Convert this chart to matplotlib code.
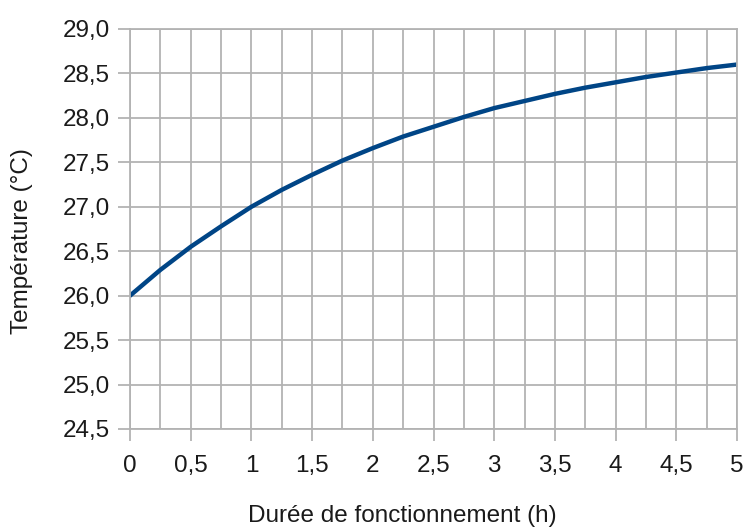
import matplotlib.pyplot as plt
from matplotlib.ticker import MultipleLocator, FuncFormatter

# durée (h) et température (°C)
durees = [0, 0.25, 0.5, 0.75, 1.0, 1.25, 1.5, 1.75, 2.0, 2.25, 2.5,
          2.75, 3.0, 3.25, 3.5, 3.75, 4.0, 4.25, 4.5, 4.75, 5.0]
temperatures = [26.00, 26.29, 26.55, 26.78, 27.00, 27.19, 27.36, 27.52,
                27.66, 27.79, 27.90, 28.01, 28.11, 28.19, 28.27, 28.34,
                28.40, 28.46, 28.51, 28.56, 28.60]

plt.rcParams['font.family'] = ['Liberation Sans', 'DejaVu Sans']

grey = '#b3b3b3'
txt = '#1a1a1a'
W, H = 746, 527
fig = plt.figure(figsize=(W / 100, H / 100), dpi=100)
ax = fig.add_axes([130 / W, 1 - 429 / H, 607 / W, 400 / H])

ax.plot(durees, temperatures, color='#004586', linewidth=3.2, solid_capstyle='round')

ax.set_xlim(0, 5)
ax.set_ylim(24.5, 29)
ax.xaxis.set_major_locator(MultipleLocator(0.5))
ax.xaxis.set_minor_locator(MultipleLocator(0.25))
ax.yaxis.set_major_locator(MultipleLocator(0.5))

ax.xaxis.set_major_formatter(FuncFormatter(lambda v, p: ('%g' % v).replace('.', ',')))
ax.yaxis.set_major_formatter(FuncFormatter(lambda v, p: ('%.1f' % v).replace('.', ',')))

ax.grid(True, which='major', color=grey, linewidth=1.3)
ax.grid(True, which='minor', axis='x', color=grey, linewidth=1.3)
ax.set_axisbelow(True)

for s in ax.spines.values():
    s.set_color(grey)
    s.set_linewidth(1.3)

ax.tick_params(axis='both', which='major', color=grey, width=1.3, length=8.5,
               labelsize=17.5, labelcolor=txt)
ax.tick_params(axis='x', which='major', pad=10)
ax.tick_params(axis='y', which='major', pad=6)
ax.tick_params(axis='x', which='minor', length=0)

# titres des axes, placés comme dans le graphique d'origine
fig.text(402 / W, 1 - 516 / H, 'Durée de fonctionnement (h)', fontsize=17.5,
         color=txt, ha='center', va='center')
fig.text(22 / W, 1 - 241 / H, 'Température (°C)', fontsize=17.5,
         color=txt, ha='center', va='center', rotation=90)

fig.savefig('out.png', dpi=100)
